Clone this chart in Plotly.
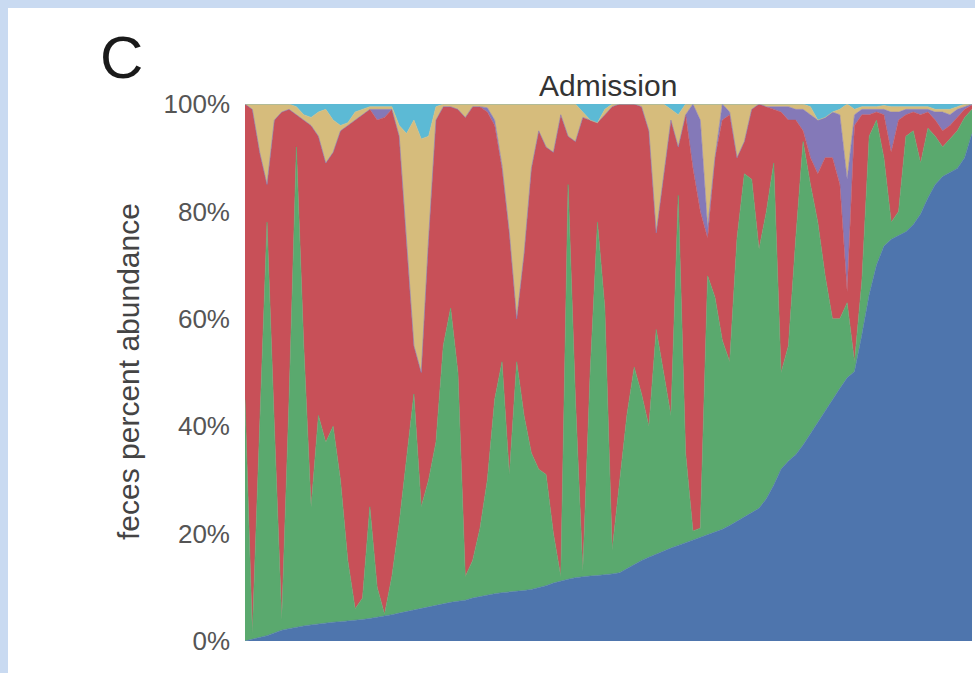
import plotly.graph_objects as go

# Sample index (patients ordered by blue-taxon abundance)
samples = list(range(100))

# Percent abundance per layer (bottom to top)
blue = [0, 0.3, 0.6, 1.0, 1.5, 2.0, 2.3, 2.6, 2.8, 3.0,
        3.2, 3.4, 3.5, 3.6, 3.7, 3.9, 4.0, 4.2, 4.4, 4.6,
        4.9, 5.2, 5.5, 5.8, 6.1, 6.4, 6.7, 7.0, 7.2, 7.4,
        7.6, 8.0, 8.3, 8.6, 8.8, 9.0, 9.1, 9.2, 9.4, 9.6,
        9.9, 10.3, 10.8, 11.2, 11.5, 11.8, 12.0, 12.1, 12.2, 12.3,
        12.5, 12.7, 13.5, 14.3, 15.0, 15.6, 16.2, 16.8, 17.3, 17.8,
        18.3, 18.8, 19.3, 19.8, 20.2, 20.8, 21.5, 22.3, 23.1, 23.8,
        24.7, 26.5, 29.0, 32.0, 33.5, 34.7, 36.5, 38.6, 40.7, 43.0,
        45.0, 47.0, 49.0, 50.2, 57.0, 64.5, 70.0, 73.5, 74.8, 75.5,
        76.2, 77.5, 79.5, 82.5, 85.0, 86.5, 87.3, 88.0, 90.0, 94.5]

green = [45, 1.2, 39.4, 77, 38.5, 2, 42.7, 89.4, 52.2, 22,
         38.8, 33.6, 36.5, 26.4, 11.3, 2.1, 4, 20.8, 5.6, 0.4,
         7.1, 16.8, 28.5, 40.2, 18.9, 23.6, 30.3, 48, 54.8, 42.6,
         4.4, 7, 12.7, 21.4, 36.2, 43, 21.9, 42.8, 32.6, 25.4,
         22.1, 20.7, 9.2, 0.8, 73.5, 33.2, 1, 37.9, 65.8, 49.7,
         4.5, 17.3, 28.5, 36.7, 31, 24.4, 41.8, 33.2, 24.7, 65.2,
         16.7, 1.7, 1.7, 48.2, 43.8, 35.2, 30.5, 52.7, 63.9, 62.2,
         48.3, 53.5, 60, 18, 21.5, 40.3, 56.5, 46.4, 37.3, 25,
         15, 13, 14, 1.8, 10, 29.5, 27, 16.5, 3.2, 4.5,
         17.8, 17.5, 9.5, 13, 9, 5.5, 6.2, 7, 7.5, 4.5]

red = [55, 97.5, 51, 7, 57, 94.5, 54, 6, 42, 71,
       52, 52, 51, 65, 81, 91, 90, 74, 87, 92.5,
       87, 72, 40, 9, 25, 45, 60, 44.5, 37.5, 49,
       85.5, 84.5, 78.5, 68.5, 51, 36, 45, 8, 30, 53,
       63, 61, 71, 86, 9, 48, 84.5, 47, 18.5, 36,
       82.5, 70, 58, 49, 53.5, 55, 18, 36, 55, 9,
       63, 67.5, 59, 7, 26, 41, 46, 15, 6, 13,
       27, 19.5, 10, 48.5, 42, 22, 2, 5, 9, 22,
       30, 25, 2, 44, 31, 4, 1.5, 8, 13, 17,
       4, 3.5, 9, 3, 3, 3, 2.5, 2.5, 1.5, 0.8]

purple = [0, 0, 0, 0, 0, 0, 0, 0, 0, 0,
          0, 0, 0, 0, 0, 0, 0, 0, 2, 1.5,
          0, 0, 0, 0, 0, 0, 0, 0, 0, 0,
          0, 0, 0, 0.8, 1, 0.5, 0, 0, 0, 0,
          0, 0, 0, 0, 0, 0, 0, 0, 0, 0,
          0, 0, 0, 0, 0, 0, 0, 0, 0, 0,
          0, 12, 17, 2, 0, 3, 0.5, 0, 0, 0,
          0, 0, 0.5, 1, 2.5, 2, 4, 8, 10, 7.5,
          8.5, 13, 21, 2, 1, 1, 0.5, 1, 7.5, 1.5,
          1, 0.5, 1, 0.5, 1.5, 3.5, 2, 1.5, 0.5, 0.2]

tan = [0, 1, 9, 15, 3, 1.5, 1, 1.5, 1, 1.5,
       4.5, 10, 6, 1, 0.5, 1.5, 1, 0.5, 0.5, 0.5,
       0.5, 2, 20.5, 42, 43.5, 19, 2.5, 0.5, 0.5, 1,
       2.5, 0.5, 0.5, 0.7, 3, 11.5, 24, 40, 28, 12,
       5, 8, 9, 2, 6, 7, 1, 0, 0, 1,
       0.5, 0, 0, 0, 0.5, 5, 24, 14, 2, 6,
       2, 0, 3, 23, 10, 0, 1.5, 10, 7, 1,
       0, 0.5, 0.5, 0.5, 0.5, 1, 1, 1.5, 0, 0,
       0, 1, 14, 1, 0.5, 0.5, 0.5, 0.7, 1, 1,
       0.5, 0.5, 0.5, 0.5, 0.5, 0.5, 1, 0.5, 0.5, 0]

cyan = [0, 0, 0, 0, 0, 0, 0, 0.5, 2, 2.5,
        1.5, 1, 3, 4, 3.5, 1.5, 1, 0.5, 0.5, 0.5,
        0.5, 4, 5.5, 3, 6.5, 6, 0.5, 0, 0, 0,
        0, 0, 0, 0, 0, 0, 0, 0, 0, 0,
        0, 0, 0, 0, 0, 0, 1.5, 3, 3.5, 1,
        0, 0, 0, 0, 0, 0, 0, 0, 1, 2,
        0, 0, 0, 0, 0, 0, 0, 0, 0, 0,
        0, 0, 0, 0, 0, 0, 0, 0.5, 3, 2.5,
        1.5, 1, 0, 1, 0.5, 0.5, 0.5, 0.3, 0.5, 0.5,
        0.5, 0.5, 0.5, 0.5, 1, 1, 1, 0.5, 0, 0]

layers = [
    ("Taxon 1", blue, "#4e75ad"),
    ("Taxon 2", green, "#5aa96e"),
    ("Taxon 3", red, "#c85058"),
    ("Taxon 4", purple, "#8479b8"),
    ("Taxon 5", tan, "#d6bc7c"),
    ("Taxon 6", cyan, "#5cbad5"),
]

tick_vals = [0, 20, 40, 60, 80, 100]
tick_text = ["0%", "20%", "40%", "60%", "80%", "100%"]

fig = go.Figure()
for name, vals, color in layers:
    fig.add_trace(go.Scatter(
        x=samples, y=vals, name=name, stackgroup="one", mode="lines",
        line=dict(width=0.6, color=color), fillcolor=color,
        hoverinfo="skip",
    ))

W, H = 975, 673
L, R, T, B = 245, 3, 104, 32
pw, ph = W - L - R, H - T - B

def px(x):
    return (x - L) / pw

def py(y):
    return (H - B - y) / ph

fig.add_shape(type="rect", xref="paper", yref="paper", layer="below",
              x0=px(8), x1=px(W + 10), y0=py(H + 10), y1=py(8),
              fillcolor="white", line=dict(width=0))

font = "Liberation Sans, Arial, sans-serif"
fig.add_annotation(text="C", xref="paper", yref="paper", x=px(121), y=py(57),
                   xanchor="center", yanchor="middle", showarrow=False,
                   font=dict(family=font, size=60, color="#1a1a1a"))
fig.add_annotation(text="Admission", xref="paper", yref="paper", x=px(608), y=py(86),
                   xanchor="center", yanchor="middle", showarrow=False,
                   font=dict(family=font, size=30, color="#333333"))
fig.add_annotation(text="feces percent abundance", xref="paper", yref="paper",
                   x=px(128), y=py(372), textangle=-90,
                   xanchor="center", yanchor="middle", showarrow=False,
                   font=dict(family=font, size=30, color="#444444"))

fig.update_layout(
    width=W, height=H,
    margin=dict(l=L, r=R, t=T, b=B, pad=0),
    paper_bgcolor="#c9daf1", plot_bgcolor="white",
    showlegend=False,
    xaxis=dict(visible=False, range=[0, 99], fixedrange=True),
    yaxis=dict(range=[0, 100], tickvals=tick_vals, ticktext=tick_text,
               showgrid=False, zeroline=False, showline=False, ticks="",
               ticklabelstandoff=14, fixedrange=True,
               tickfont=dict(family=font, size=26, color="#555555")),
)

fig.write_html(
    "out.html",
    config={"displayModeBar": False, "staticPlot": True},
    post_script="document.body.style.margin='0';document.body.style.overflow='hidden';",
)
